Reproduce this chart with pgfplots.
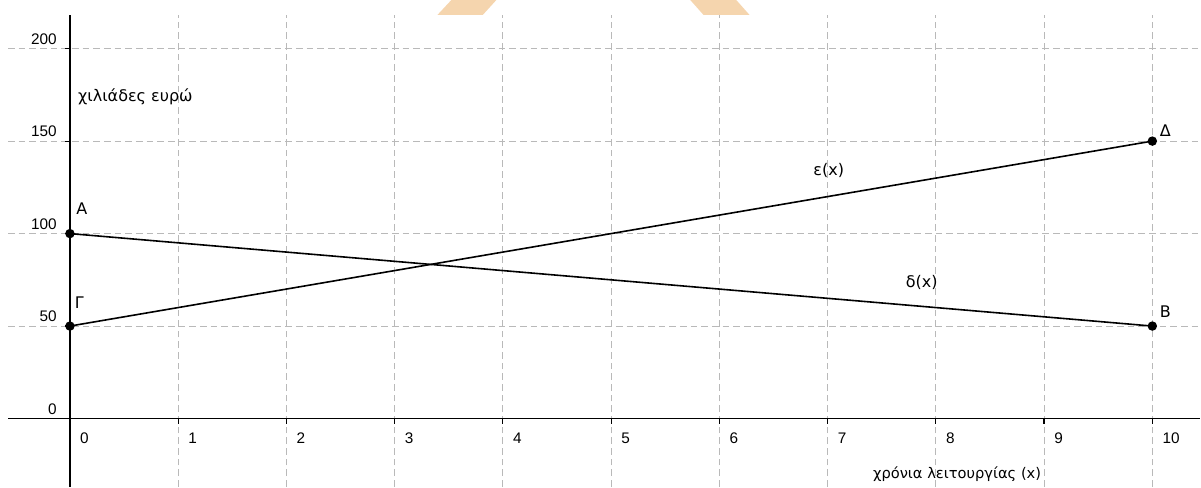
\documentclass[border=0pt]{standalone}
\usepackage{fontspec}
\setmainfont{Liberation Sans}
\newfontfamily\labelfont{DejaVu Sans}
\usepackage{pgfplots}
\pgfplotsset{compat=1.18}
\definecolor{gridgray}{RGB}{185,185,185}
\definecolor{wmorange}{RGB}{245,213,174}
\tikzset{lbl/.style={font=\labelfont\fontsize{12}{14}\selectfont}}

\begin{document}
\fontsize{11.5}{13}\selectfont
\begin{tikzpicture}
\begin{axis}[
  x=81.2pt, y=1.3875pt,
  xmin=-0.572, xmax=10.443, ymin=-36.9, ymax=218.2,
  axis lines=middle,
  axis line style={-, line width=1.1pt, black},
  xtick={0,...,10}, ytick={0,50,...,200},
  hide obscured x ticks=false, hide obscured y ticks=false,
  tick align=outside, major tick length=3.75pt,
  tick style={black, line width=0.9pt},
  grid=major,
  major grid style={gridgray, line width=0.8pt, dash pattern=on 5pt off 3pt},
  /pgf/number format/assume math mode=true,
  every tick label/.append style={font=\fontsize{11.5}{13}\selectfont},
  xticklabel style={anchor=north west, inner sep=0pt, xshift=7.5pt, yshift=-6.5pt},
  yticklabel style={anchor=south east, inner sep=0pt, xshift=-6pt, yshift=2.8pt},
  clip=false,
]
% watermark remnants at the top edge
\fill[wmorange] (axis cs:3.395,218.2) -- (axis cs:3.524,226.3) -- (axis cs:3.940,226.3) -- (axis cs:3.814,218.2) -- cycle;
\fill[wmorange] (axis cs:5.854,218.2) -- (axis cs:5.731,226.3) -- (axis cs:6.156,226.3) -- (axis cs:6.279,218.2) -- cycle;

% delta(x): A -> B
\addplot[black, line width=1.2pt, mark=*, mark size=2.9pt] coordinates {(0,100) (10,50)};
% epsilon(x): Gamma -> Delta
\addplot[black, line width=1.2pt, mark=*, mark size=2.9pt] coordinates {(0,50) (10,150)};

\node[lbl] at (axis cs:0.111,113.4) {A};
\node[lbl] at (axis cs:0.088,62.8) {Γ};
\node[lbl] at (axis cs:10.12,155.5) {Δ};
\node[lbl] at (axis cs:10.12,57.7) {B};
\node[lbl] at (axis cs:7.01,133.9) {ε(x)};
\node[lbl] at (axis cs:7.87,73.3) {δ(x)};

\node[lbl, anchor=west, inner sep=0pt] at (axis cs:0.074,173.9) {χιλιάδες ευρώ};
\node[font=\labelfont\fontsize{11}{13}\selectfont, anchor=east, inner sep=0pt] at (axis cs:8.975,-29.9) {χρόνια λειτουργίας (x)};

\path (axis cs:-0.646,-36.9) rectangle (axis cs:10.443,226.3);
\end{axis}
\end{tikzpicture}
\end{document}
